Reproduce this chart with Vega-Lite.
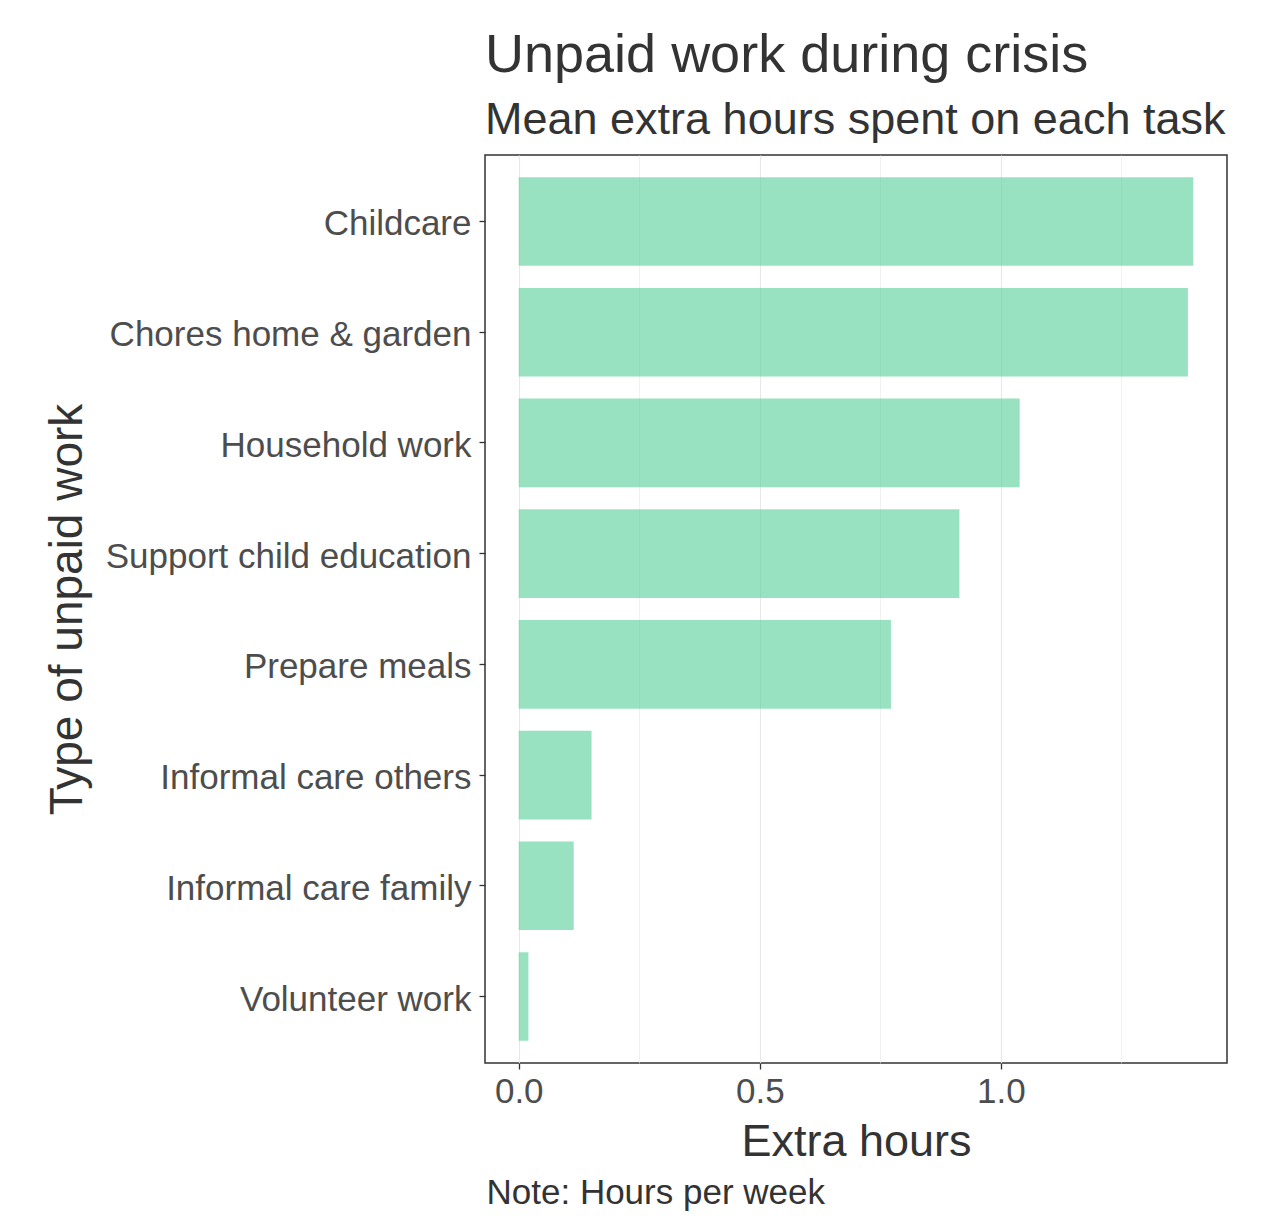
{
  "$schema": "https://vega.github.io/schema/vega-lite/v6.json",
  "autosize": {"type": "none"},
  "width": 742,
  "height": 908,
  "padding": {"left": 485, "top": 155, "right": 49, "bottom": 153},
  "background": "white",
  "config": {
    "font": "Liberation Sans",
    "view": {"stroke": "#333333", "strokeWidth": 1.5}
  },
  "title": {
    "text": "Unpaid work during crisis",
    "subtitle": "Mean extra hours spent on each task",
    "anchor": "start",
    "frame": "group",
    "font": "Liberation Sans",
    "fontSize": 54,
    "fontWeight": "normal",
    "color": "#333333",
    "subtitleFont": "Liberation Sans",
    "subtitleFontSize": 45,
    "subtitleColor": "#333333",
    "subtitlePadding": 15,
    "offset": 12
  },
  "data": {
    "values": [
      {"task": "Childcare", "hours": 1.399},
      {"task": "Chores home & garden", "hours": 1.388},
      {"task": "Household work", "hours": 1.039},
      {"task": "Support child education", "hours": 0.914},
      {"task": "Prepare meals", "hours": 0.772},
      {"task": "Informal care others", "hours": 0.151},
      {"task": "Informal care family", "hours": 0.114},
      {"task": "Volunteer work", "hours": 0.020}
    ]
  },
  "encoding": {
    "y": {
      "field": "task",
      "type": "nominal",
      "sort": ["Childcare", "Chores home & garden", "Household work", "Support child education", "Prepare meals", "Informal care others", "Informal care family", "Volunteer work"],
      "scale": {"paddingInner": 0.2, "paddingOuter": 0.2},
      "axis": {
        "title": "Type of unpaid work",
        "titleFont": "Liberation Sans",
        "titleFontSize": 46,
        "titleFontWeight": "normal",
        "titleColor": "#333333",
        "titleAngle": 270,
        "titleBaseline": "middle",
        "titleX": -418,
        "labelFont": "Liberation Sans",
        "labelFontSize": 35,
        "labelColor": "#4d4d4d",
        "labelPadding": 8,
        "labelOffset": 3,
        "labelLimit": 0,
        "tickSize": 6,
        "tickColor": "#333333",
        "tickWidth": 1.3,
        "domain": false,
        "gridColor": "#e8e8e8",
        "gridWidth": 1.1
      }
    }
  },
  "layer": [
    {
      "mark": {"type": "bar", "color": "#53cf99", "opacity": 0.6},
      "encoding": {
        "x": {
          "field": "hours",
          "type": "quantitative",
          "scale": {"domain": [-0.07, 1.469], "nice": false, "zero": false},
          "axis": {
            "values": [0, 0.25, 0.5, 0.75, 1, 1.25],
            "labelExpr": "datum.value % 0.5 === 0 ? format(datum.value, '.1f') : ''",
            "title": "Extra hours",
            "titleFont": "Liberation Sans",
            "titleFontSize": 45,
            "titleFontWeight": "normal",
            "titleColor": "#333333",
            "titleBaseline": "alphabetic",
            "titleY": 92,
            "labelFont": "Liberation Sans",
            "labelFontSize": 35,
            "labelColor": "#4d4d4d",
            "labelPadding": 5,
            "tickSize": 6,
            "tickColor": "#333333",
            "tickWidth": 1.3,
            "tickOpacity": {"condition": {"test": "datum.value % 0.5 === 0", "value": 1}, "value": 0},
            "domain": false,
            "gridColor": "#e8e8e8",
            "gridWidth": {"condition": {"test": "datum.value % 0.5 === 0", "value": 1.1}, "value": 0.6}
          }
        }
      }
    },
    {
      "mark": {"type": "bar", "opacity": 0},
      "encoding": {
        "x": {
          "field": "hours",
          "type": "quantitative",
          "axis": {
            "orient": "bottom",
            "labels": false,
            "ticks": false,
            "domain": false,
            "grid": false,
            "title": "Note: Hours per week",
            "titleFont": "Liberation Sans",
            "titleFontSize": 35,
            "titleFontWeight": "normal",
            "titleColor": "#333333",
            "titleAlign": "left",
            "titleAnchor": "start",
            "titleBaseline": "alphabetic",
            "titleX": 1,
            "titleY": 140
          }
        }
      }
    }
  ],
  "resolve": {"axis": {"x": "independent"}}
}
